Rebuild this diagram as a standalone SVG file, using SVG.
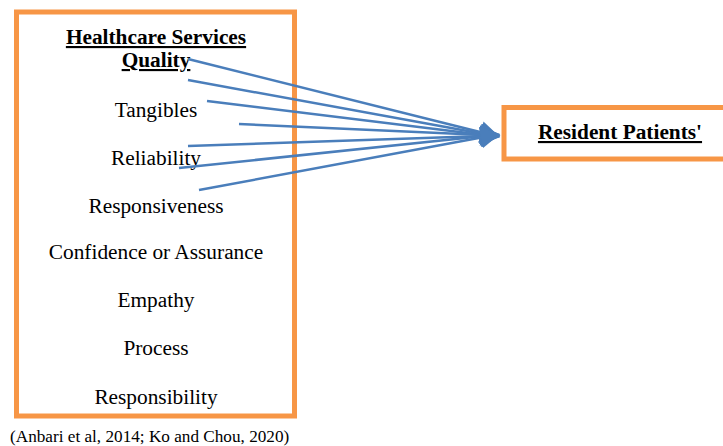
<svg xmlns="http://www.w3.org/2000/svg" width="723" height="446" viewBox="0 0 723 446">
<style>
.box{fill:#fff;stroke:#f79646;stroke-width:5}
.t{font-family:'Liberation Serif','Times New Roman',serif;font-size:21.33px;fill:#000;text-anchor:middle}
.b{font-weight:bold;text-decoration:underline}
.c{stroke:#4a7ebb;stroke-width:2.5;fill:none;marker-end:url(#ah)}
</style>
<defs>
<marker id="ah" markerUnits="userSpaceOnUse" markerWidth="24" markerHeight="24" refX="3" refY="10" orient="auto" viewBox="0 0 22 20">
<path d="M0,0 L18,10 L0,20 Z" fill="#4a7ebb"/>
</marker>
</defs>
<rect width="723" height="446" fill="#fff"/>
<g id="quality" font-family="Liberation Serif, Times New Roman, serif">
<rect class="box" x="16.5" y="12" width="278" height="404"/>
<text class="t b" x="156" y="44">Healthcare Services</text>
<text class="t b" x="156" y="67">Quality</text>
<text class="t" x="156" y="117">Tangibles</text>
<text class="t" x="156" y="165">Reliability</text>
<text class="t" x="156" y="213">Responsiveness</text>
<text class="t" x="156" y="259">Confidence or Assurance</text>
<text class="t" x="156" y="307">Empathy</text>
<text class="t" x="156" y="355">Process</text>
<text class="t" x="156" y="404">Responsibility</text>
</g>
<g id="resident" font-family="Liberation Serif, Times New Roman, serif">
<rect class="box" x="504" y="107.5" width="230" height="51.5"/>
<text class="t b" x="620" y="139">Resident Patients'</text>
</g>
<g id="connectors">
<line class="c" x1="188" y1="59" x2="484" y2="133"/>
<line class="c" x1="188" y1="80" x2="484" y2="134"/>
<line class="c" x1="207" y1="101" x2="484" y2="135"/>
<line class="c" x1="239" y1="124" x2="484" y2="135"/>
<line class="c" x1="188" y1="146" x2="484" y2="136"/>
<line class="c" x1="179" y1="168" x2="484" y2="136"/>
<line class="c" x1="199" y1="190" x2="484" y2="137"/>
</g>
<text class="t" x="10" y="442" style="text-anchor:start;font-size:17.2px">(Anbari et al, 2014; Ko and Chou, 2020)</text>
</svg>
